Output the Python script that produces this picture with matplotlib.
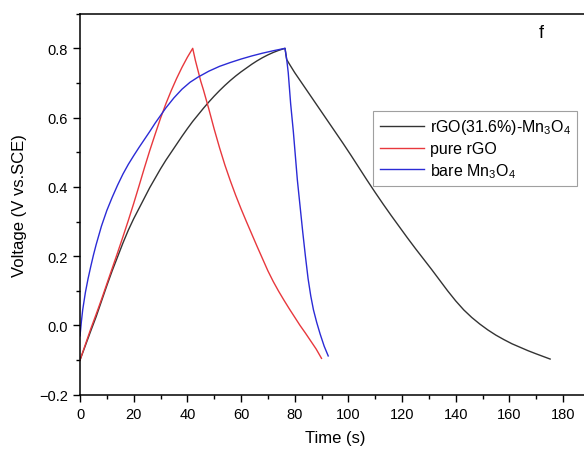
import matplotlib
matplotlib.use('Agg')
import matplotlib.pyplot as plt
from matplotlib.ticker import MultipleLocator

plt.rcParams['font.family'] = ['Liberation Sans', 'DejaVu Sans']
plt.rcParams['mathtext.default'] = 'regular'

# rGO(31.6%)-Mn3O4 composite: charge then discharge
t_comp = [0, 2, 4, 6, 8, 10, 12, 14, 16, 18, 20, 22, 24, 26, 28, 30, 32, 34, 36, 38, 40,
          42, 44, 46, 48, 50, 52, 54, 56, 58, 60, 62, 64, 66, 68, 70, 72, 74, 76.4,
          77, 78, 80, 83, 86, 89, 92, 95, 98, 101, 104, 107, 110, 113, 116, 119, 122, 125,
          128, 131, 134, 137, 140, 143, 146, 149, 152, 155, 158, 161, 164, 167, 170, 175.2]
v_comp = [-0.1, -0.058, -0.016, 0.025, 0.07, 0.115, 0.158, 0.198, 0.238, 0.275, 0.308, 0.338,
          0.368, 0.398, 0.425, 0.452, 0.477, 0.5, 0.523, 0.546, 0.568,
          0.589, 0.608, 0.627, 0.645, 0.662, 0.678, 0.693, 0.707, 0.72, 0.732, 0.743, 0.754,
          0.764, 0.773, 0.781, 0.788, 0.794, 0.8,
          0.768, 0.755, 0.73, 0.696, 0.662, 0.628, 0.594, 0.56, 0.526, 0.491, 0.455, 0.419,
          0.384, 0.35, 0.317, 0.285, 0.253, 0.222,
          0.192, 0.162, 0.131, 0.1, 0.071, 0.045, 0.023, 0.004, -0.013, -0.028, -0.041, -0.053,
          -0.063, -0.073, -0.082, -0.097]

# pure rGO
t_rgo = [0, 2, 4, 6, 8, 10, 12, 14, 16, 18, 20, 22, 24, 26, 28, 30, 32, 34, 36, 38, 40, 42,
         43, 44, 45, 46, 48, 50, 52, 54, 56, 58, 60, 62, 64, 66, 68, 70, 72, 74, 76, 78, 80,
         82, 84, 86, 88, 90]
v_rgo = [-0.1, -0.055, -0.01, 0.032, 0.075, 0.12, 0.165, 0.21, 0.256, 0.303, 0.352, 0.403,
         0.455, 0.505, 0.552, 0.598, 0.64, 0.678, 0.713, 0.745, 0.774, 0.8,
         0.765, 0.735, 0.705, 0.68, 0.625, 0.567, 0.513, 0.463, 0.418, 0.376, 0.337, 0.3,
         0.264, 0.228, 0.193, 0.158, 0.127, 0.099, 0.073, 0.048, 0.024,
         0.0, -0.022, -0.045, -0.068, -0.095]

# bare Mn3O4
t_mn = [0, 0.5, 1, 2, 3, 4, 5, 6, 8, 10, 12, 14, 16, 18, 20, 22, 24, 26, 28, 30, 32, 35,
        38, 41, 44, 48, 52, 56, 60, 64, 68, 72, 76.4,
        77, 77.6, 78.5, 79.5, 81, 82, 83, 84, 85, 86, 87, 88.2, 89.5, 91, 92.5]
v_mn = [-0.03, 0.01, 0.045, 0.095, 0.135, 0.17, 0.203, 0.233, 0.287, 0.332, 0.37, 0.405,
        0.437, 0.465, 0.49, 0.514, 0.537, 0.56, 0.584, 0.606, 0.628, 0.657,
        0.682, 0.702, 0.717, 0.734, 0.748, 0.759, 0.769, 0.778, 0.786, 0.793, 0.8,
        0.77, 0.73, 0.64, 0.56, 0.42, 0.345, 0.27, 0.2, 0.135, 0.085, 0.045, 0.009, -0.025,
        -0.06, -0.088]

fig = plt.figure(figsize=(5.84, 4.52), dpi=100)
ax = fig.add_axes([0.137, 0.1245, 0.873, 0.843])

ax.plot(t_comp, v_comp, color='#333333', lw=1.0, label='rGO(31.6%)-Mn$_3$O$_4$')
ax.plot(t_rgo, v_rgo, color='#e8383d', lw=1.0, label='pure rGO')
ax.plot(t_mn, v_mn, color='#2b2bd6', lw=1.0, label='bare Mn$_3$O$_4$')

ax.set_xlim(0, 190)
ax.set_ylim(-0.2, 0.9)
ax.xaxis.set_major_locator(MultipleLocator(20))
ax.xaxis.set_minor_locator(MultipleLocator(10))
ax.yaxis.set_major_locator(MultipleLocator(0.2))
ax.yaxis.set_minor_locator(MultipleLocator(0.1))
ax.tick_params(which='both', direction='out', top=False, right=False, labelsize=10.5, width=1.0)
ax.tick_params(which='major', length=5)
ax.tick_params(which='minor', length=3)
for s in ax.spines.values():
    s.set_linewidth(1.1)

ax.set_xlabel('Time (s)', fontsize=12, labelpad=7)
ax.set_ylabel('Voltage (V vs.SCE)', fontsize=12, labelpad=9)

ax.text(0.9265, 0.925, 'f', transform=fig.transFigure, fontsize=13, ha='center', va='center')

leg = ax.legend(loc='upper left', bbox_to_anchor=(0.639, 0.752), bbox_transform=fig.transFigure,
                fancybox=False, edgecolor='#888888', fontsize=11.5, handlelength=2.8,
                handletextpad=0.35, borderaxespad=0, labelspacing=0.3, borderpad=0.4)
leg.get_frame().set_linewidth(0.8)

fig.savefig('out.png', dpi=100)
